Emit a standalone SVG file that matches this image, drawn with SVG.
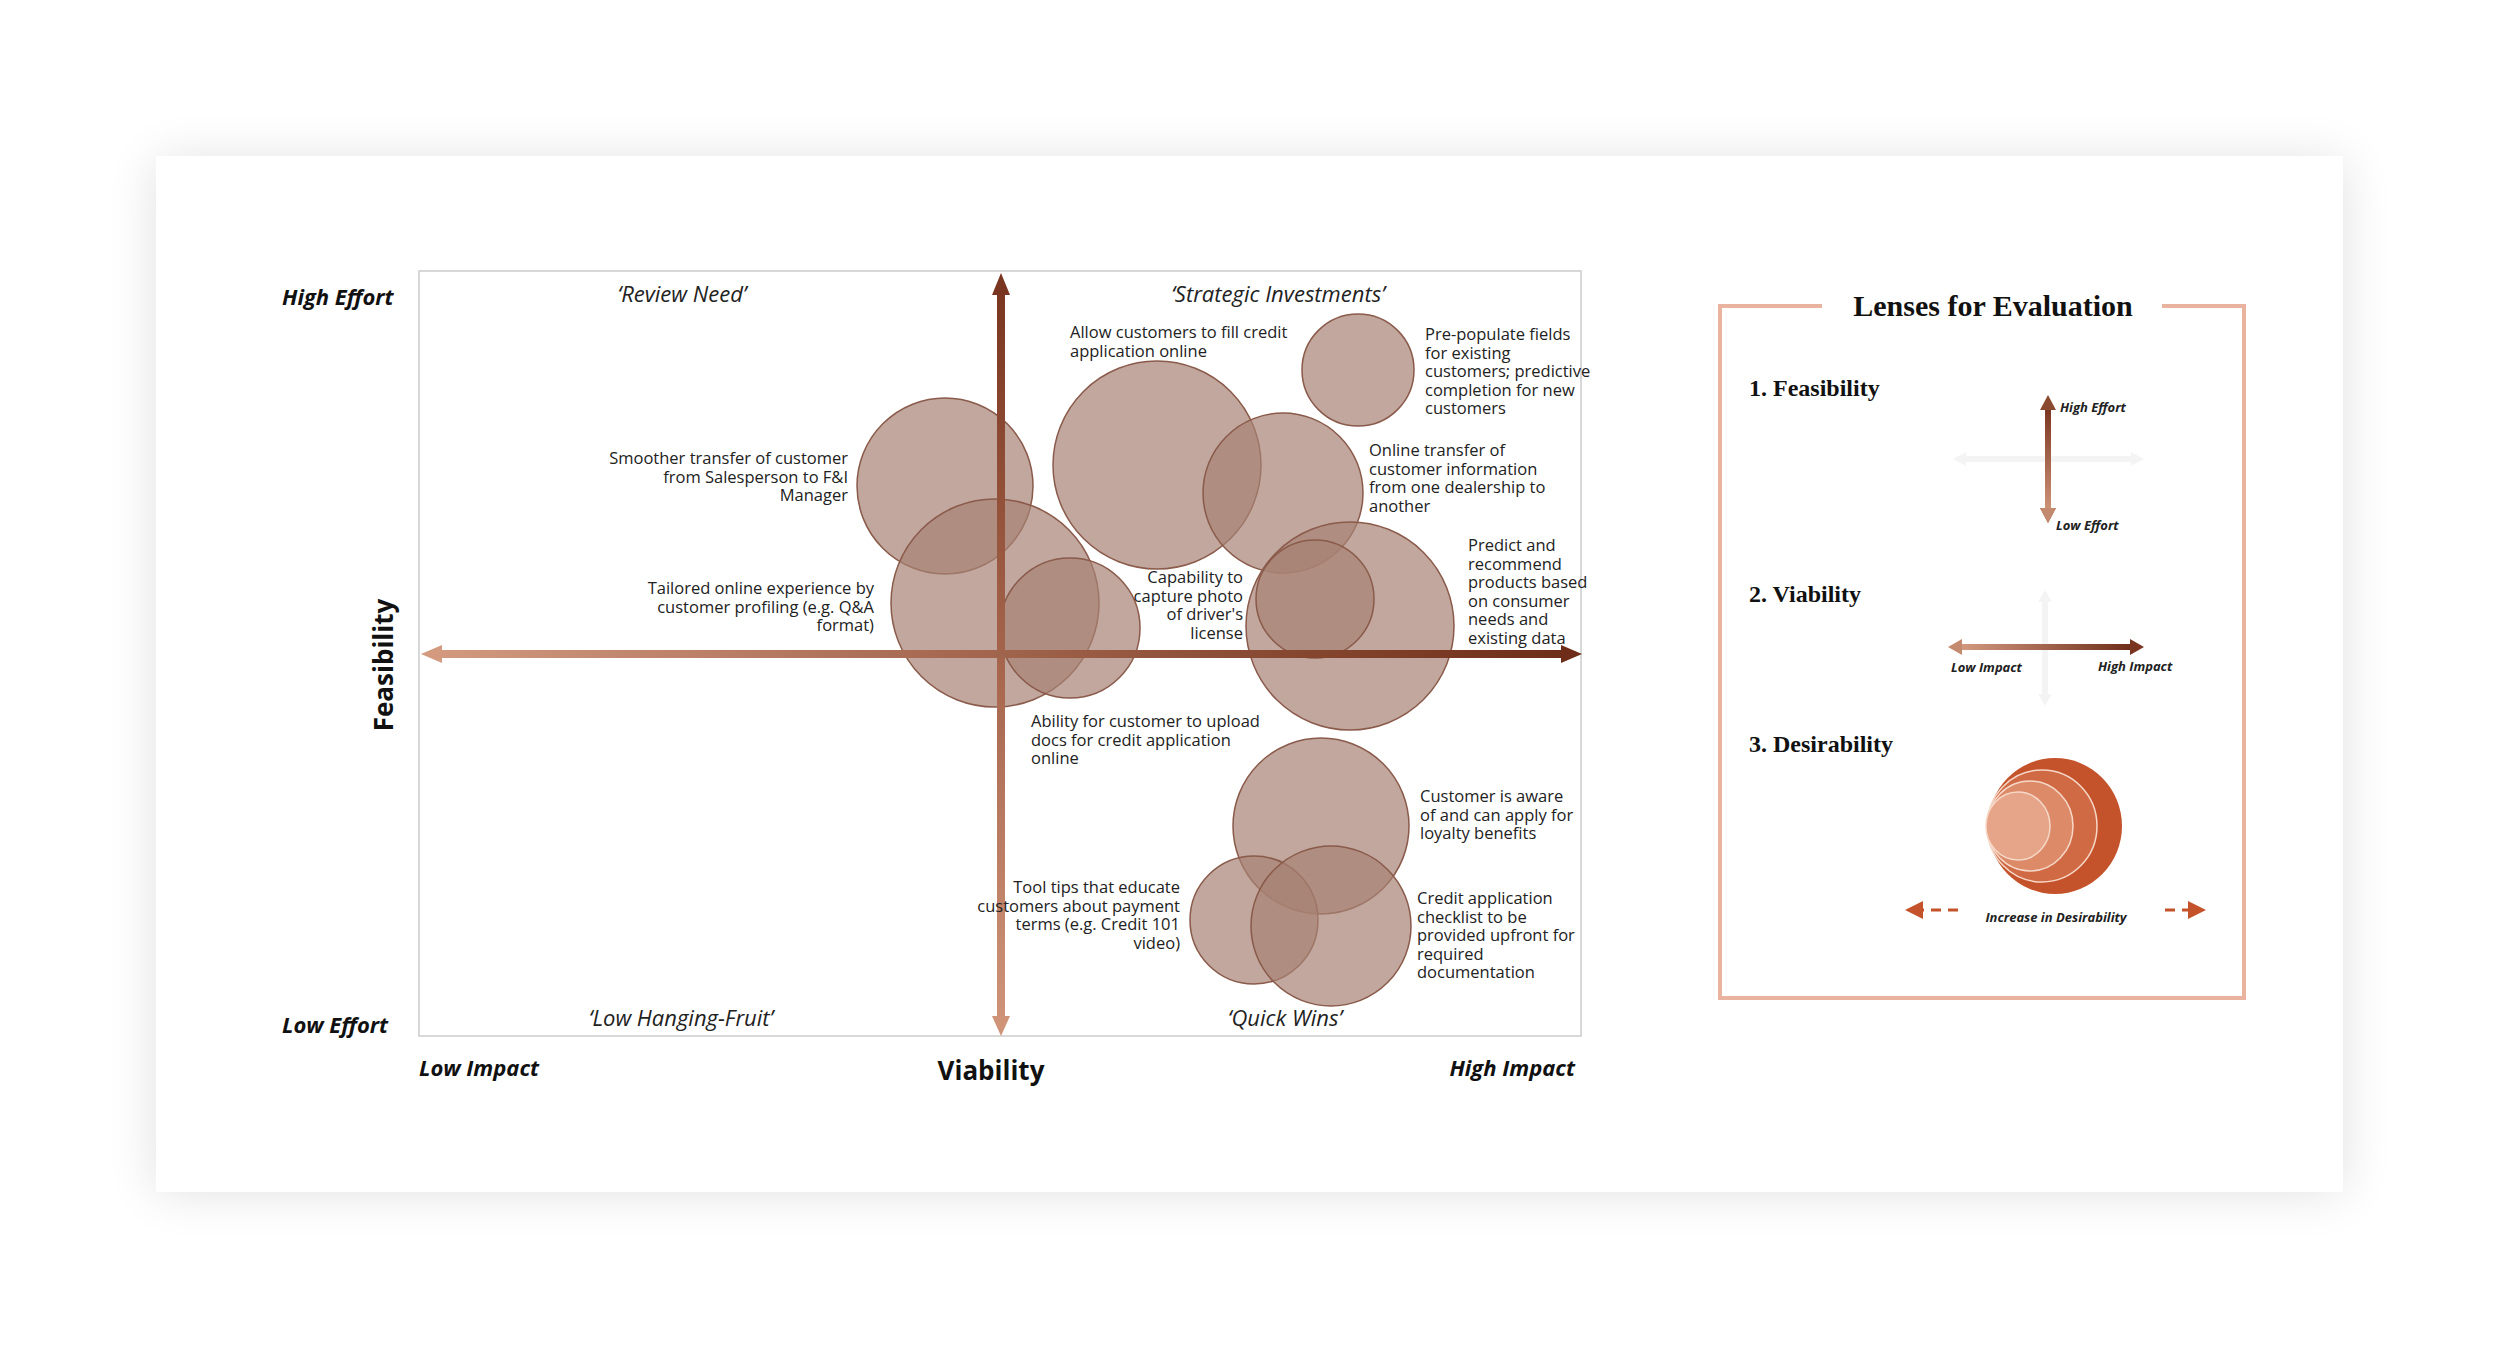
<svg xmlns="http://www.w3.org/2000/svg" width="2500" height="1350" viewBox="0 0 2500 1350">
<defs>
<filter id="sh" x="-10%" y="-10%" width="120%" height="120%"><feGaussianBlur stdDeviation="25"/></filter>
<linearGradient id="gv" x1="0" y1="0" x2="0" y2="1"><stop offset="0" stop-color="#7a3520"/><stop offset="1" stop-color="#cf9478"/></linearGradient>
<linearGradient id="gh" x1="0" y1="0" x2="1" y2="0"><stop offset="0" stop-color="#d39a80"/><stop offset="1" stop-color="#6e2d18"/></linearGradient>
<marker id="ad" markerWidth="6" markerHeight="6" refX="3" refY="3" orient="auto" markerUnits="strokeWidth"><path d="M0,0L6,3L0,6z" fill="#c4532b"/></marker>
<style>
.b{fill:#a68274;fill-opacity:.7;stroke:#8a5a4a;stroke-width:1.5}
.t{font-family:"Open Sans","Noto Sans",sans-serif;font-size:16.5px;fill:#222}
.r{text-anchor:end}
.q{font-family:"Open Sans",sans-serif;font-style:italic;font-size:22px;fill:#222;text-anchor:middle}
.ax{font-family:"Open Sans",sans-serif;font-style:italic;font-weight:bold;font-size:22px;fill:#111}
.h{font-family:"Liberation Serif",serif;font-weight:bold;font-size:24px;fill:#111}
.s{font-family:"Open Sans",sans-serif;font-style:italic;font-weight:bold;font-size:13px;fill:#222}
</style>
</defs>
<rect width="2500" height="1350" fill="#fff"/>
<rect x="156" y="160" width="2187" height="1032" fill="#000" opacity=".12" filter="url(#sh)"/>
<rect x="156" y="156" width="2187" height="1036" fill="#fff"/>
<g id="frame"><rect x="419" y="271" width="1162" height="765" fill="none" stroke="#ccc" stroke-width="1.5"/></g>
<g id="bubbles">
<circle class="b" cx="945" cy="486" r="88"/>
<circle class="b" cx="995" cy="603" r="104"/>
<circle class="b" cx="1070" cy="628" r="70"/>
<circle class="b" cx="1157" cy="465" r="104"/>
<circle class="b" cx="1283" cy="493" r="80"/>
<circle class="b" cx="1358" cy="370" r="56"/>
<circle class="b" cx="1350" cy="626" r="104"/>
<circle class="b" cx="1315" cy="599" r="59"/>
<circle class="b" cx="1321" cy="826" r="88"/>
<circle class="b" cx="1254" cy="920" r="64"/>
<circle class="b" cx="1331" cy="926" r="80"/>
</g>
<g id="connectors">
<rect x="997" y="285" width="8" height="738" fill="url(#gv)"/>
<path d="M1001,273L992,295L1010,295z" fill="#7a3520"/>
<path d="M1001,1036L992,1016L1010,1016z" fill="#cf9478"/>
<rect x="432" y="650" width="1136" height="8" fill="url(#gh)"/>
<path d="M421,654L442,645L442,663z" fill="#d39a80"/>
<path d="M1582,654L1561,645L1561,663z" fill="#6e2d18"/>
</g>
<g id="labels">
<text class="ax" x="282" y="305">High Effort</text>
<text class="ax" x="282" y="1033">Low Effort</text>
<text class="ax" x="419" y="1076">Low Impact</text>
<text class="ax" x="1575" y="1076" text-anchor="end">High Impact</text>
<text x="991" y="1080" text-anchor="middle" font-family="Open Sans,sans-serif" font-weight="bold" font-size="26" fill="#111">Viability</text>
<text transform="translate(393,665) rotate(-90)" text-anchor="middle" font-family="Open Sans,sans-serif" font-weight="bold" font-size="26" fill="#111">Feasibility</text>
<text class="q" x="682" y="302">‘Review Need’</text>
<text class="q" x="1278" y="302">‘Strategic Investments’</text>
<text class="q" x="681" y="1026">‘Low Hanging-Fruit’</text>
<text class="q" x="1285" y="1026">‘Quick Wins’</text>
</g>
<g id="texts">
<text class="t" x="1070" y="338">Allow customers to fill credit<tspan x="1070" dy="18.6">application online</tspan></text>
<text class="t" x="1425" y="340">Pre-populate fields<tspan x="1425" dy="18.6">for existing</tspan><tspan x="1425" dy="18.6">customers; predictive</tspan><tspan x="1425" dy="18.6">completion for new</tspan><tspan x="1425" dy="18.6">customers</tspan></text>
<text class="t r" x="848" y="464">Smoother transfer of customer<tspan x="848" dy="18.6">from Salesperson to F&amp;I</tspan><tspan x="848" dy="18.6">Manager</tspan></text>
<text class="t" x="1369" y="456">Online transfer of<tspan x="1369" dy="18.6">customer information</tspan><tspan x="1369" dy="18.6">from one dealership to</tspan><tspan x="1369" dy="18.6">another</tspan></text>
<text class="t r" x="874" y="594">Tailored online experience by<tspan x="874" dy="18.6">customer profiling (e.g. Q&amp;A</tspan><tspan x="874" dy="18.6">format)</tspan></text>
<text class="t r" x="1243" y="583">Capability to<tspan x="1243" dy="18.6">capture photo</tspan><tspan x="1243" dy="18.6">of driver's</tspan><tspan x="1243" dy="18.6">license</tspan></text>
<text class="t" x="1468" y="551">Predict and<tspan x="1468" dy="18.6">recommend</tspan><tspan x="1468" dy="18.6">products based</tspan><tspan x="1468" dy="18.6">on consumer</tspan><tspan x="1468" dy="18.6">needs and</tspan><tspan x="1468" dy="18.6">existing data</tspan></text>
<text class="t" x="1031" y="727">Ability for customer to upload<tspan x="1031" dy="18.6">docs for credit application</tspan><tspan x="1031" dy="18.6">online</tspan></text>
<text class="t" x="1420" y="802">Customer is aware<tspan x="1420" dy="18.6">of and can apply for</tspan><tspan x="1420" dy="18.6">loyalty benefits</tspan></text>
<text class="t r" x="1180" y="893">Tool tips that educate<tspan x="1180" dy="18.6">customers about payment</tspan><tspan x="1180" dy="18.6">terms (e.g. Credit 101</tspan><tspan x="1180" dy="18.6">video)</tspan></text>
<text class="t" x="1417" y="904">Credit application<tspan x="1417" dy="18.6">checklist to be</tspan><tspan x="1417" dy="18.6">provided upfront for</tspan><tspan x="1417" dy="18.6">required</tspan><tspan x="1417" dy="18.6">documentation</tspan></text>
</g>
<g id="legend">
<path d="M1822,306H1720V998H2244V306H2162" fill="none" stroke="#eab3a0" stroke-width="4"/>
<text x="1993" y="316" text-anchor="middle" font-family="Liberation Serif,serif" font-weight="bold" font-size="30" fill="#111">Lenses for Evaluation</text>
<text class="h" x="1749" y="396">1. Feasibility</text>
<text class="h" x="1749" y="602">2. Viability</text>
<text class="h" x="1749" y="752">3. Desirability</text>
<g opacity=".6">
<rect x="1962" y="456" width="172" height="6" fill="#eee"/><path d="M1953,459L1966,452V466zM2144,459L2131,452V466z" fill="#eee"/>
<rect x="2042" y="598" width="6" height="100" fill="#eee"/><path d="M2045,590L2038,602H2052zM2045,706L2038,694H2052z" fill="#eee"/>
</g>
<rect x="2045" y="408" width="6" height="103" fill="url(#gv)"/>
<path d="M2048,395L2040,410H2056zM2048,523L2040,508H2056z" fill="#8a4a30"/>
<path d="M2048,523L2040,508H2056z" fill="#c48a70"/>
<rect x="1960" y="644" width="172" height="6" fill="url(#gh)"/>
<path d="M1948,647L1962,639V655z" fill="#c48a70"/><path d="M2144,647L2130,639V655z" fill="#7a3520"/>
<text class="s" x="2060" y="412">High Effort</text>
<text class="s" x="2056" y="530">Low Effort</text>
<text class="s" x="1951" y="672">Low Impact</text>
<text class="s" x="2098" y="671">High Impact</text>
<ellipse cx="2055" cy="826" rx="67" ry="68" fill="#c4532b"/>
<ellipse cx="2042" cy="826" rx="55" ry="56" fill="#d06a45" stroke="#f6d8c8" stroke-width="1.5"/>
<ellipse cx="2030" cy="826" rx="43" ry="45" fill="#dc8a68" stroke="#f6d8c8" stroke-width="1.5"/>
<ellipse cx="2018" cy="826" rx="32" ry="34" fill="#e6a588" stroke="#f6d8c8" stroke-width="1.5"/>
<line x1="1958" y1="910" x2="1914" y2="910" stroke="#c4532b" stroke-width="3" stroke-dasharray="10,7" marker-end="url(#ad)"/>
<line x1="2165" y1="910" x2="2197" y2="910" stroke="#c4532b" stroke-width="3" stroke-dasharray="10,7" marker-end="url(#ad)"/>
<text class="s" x="2056" y="922" text-anchor="middle" font-size="15">Increase in Desirability</text>
</g>
</svg>
